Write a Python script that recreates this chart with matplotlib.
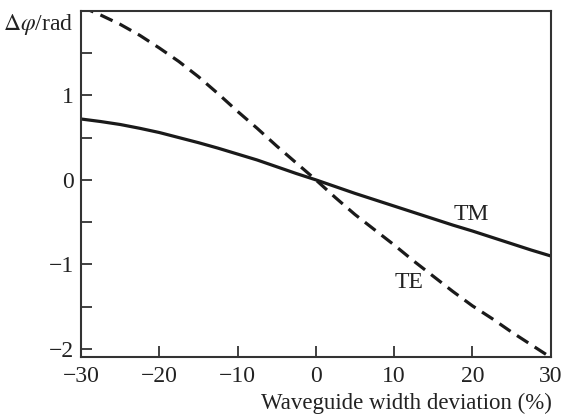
import matplotlib
matplotlib.use("Agg")
import matplotlib.pyplot as plt
import numpy as np

# Waveguide width deviation (%)
width_dev = [-30, -27.5, -25, -22.5, -20, -17.5, -15, -12.5, -10, -7.5, -5, -2.5, 0,
             2.5, 5, 7.5, 10, 12.5, 15, 17.5, 20, 22.5, 25, 27.5, 30]
# Phase difference (rad)
phase_te = [2.05, 1.95, 1.84, 1.71, 1.56, 1.40, 1.22, 1.02, 0.81, 0.61, 0.40, 0.20, 0.0,
            -0.21, -0.41, -0.59, -0.77, -0.96, -1.14, -1.32, -1.49, -1.64, -1.80, -1.95, -2.10]
phase_tm = [0.72, 0.69, 0.655, 0.61, 0.56, 0.50, 0.44, 0.375, 0.305, 0.235, 0.155, 0.075, 0.0,
            -0.08, -0.16, -0.235, -0.31, -0.385, -0.46, -0.535, -0.605, -0.68, -0.755, -0.83, -0.90]

x_ticks = [-30, -20, -10, 0, 10, 20, 30]
y_ticks = [-2, -1, 0, 1]
y_minor = [-1.5, -0.5, 0.5, 1.5]

plt.rcParams.update({
    "font.family": "Liberation Serif",
    "mathtext.fontset": "stix",
    "font.size": 17,
    "axes.unicode_minus": True,
})

fig = plt.figure(figsize=(5.63, 4.16), dpi=100)
ax = fig.add_axes([0.144, 0.141, 0.834, 0.833])

line_col = "#1a1a1a"
x = np.array(width_dev)
ax.plot(x, phase_tm, color=line_col, lw=2.3, solid_joinstyle="round")
ax.plot(x, phase_te, color=line_col, lw=2.3, dashes=(4.2, 2.4), dash_joinstyle="round")

ax.text(19.9, -0.41, "TM", ha="center", va="center", fontsize=17, color="#222222")
ax.text(11.9, -1.22, "TE", ha="center", va="center", fontsize=17, color="#222222")

ax.set_xlim(-30, 30)
ax.set_ylim(-2.1, 2.0)
ax.set_xticks(x_ticks)
ax.set_yticks(y_ticks)
ax.set_yticks(y_minor, minor=True)
ax.tick_params(which="both", direction="in", length=8, width=1.3, color="#333333",
               top=False, right=False, labelsize=17, labelcolor="#222222")
ax.tick_params(axis="x", pad=6)
ax.tick_params(axis="y", pad=5)
for s in ax.spines.values():
    s.set_linewidth(1.5)
    s.set_color("#333333")

fig.text(0.98, 0.004, "Waveguide width deviation (%)", ha="right", va="bottom",
         fontsize=16.5, color="#222222")
fig.text(0.131, 0.94, r"$\Delta\varphi$/rad", ha="right", va="center",
         fontsize=17, color="#222222")

fig.savefig("out.png", dpi=100)
